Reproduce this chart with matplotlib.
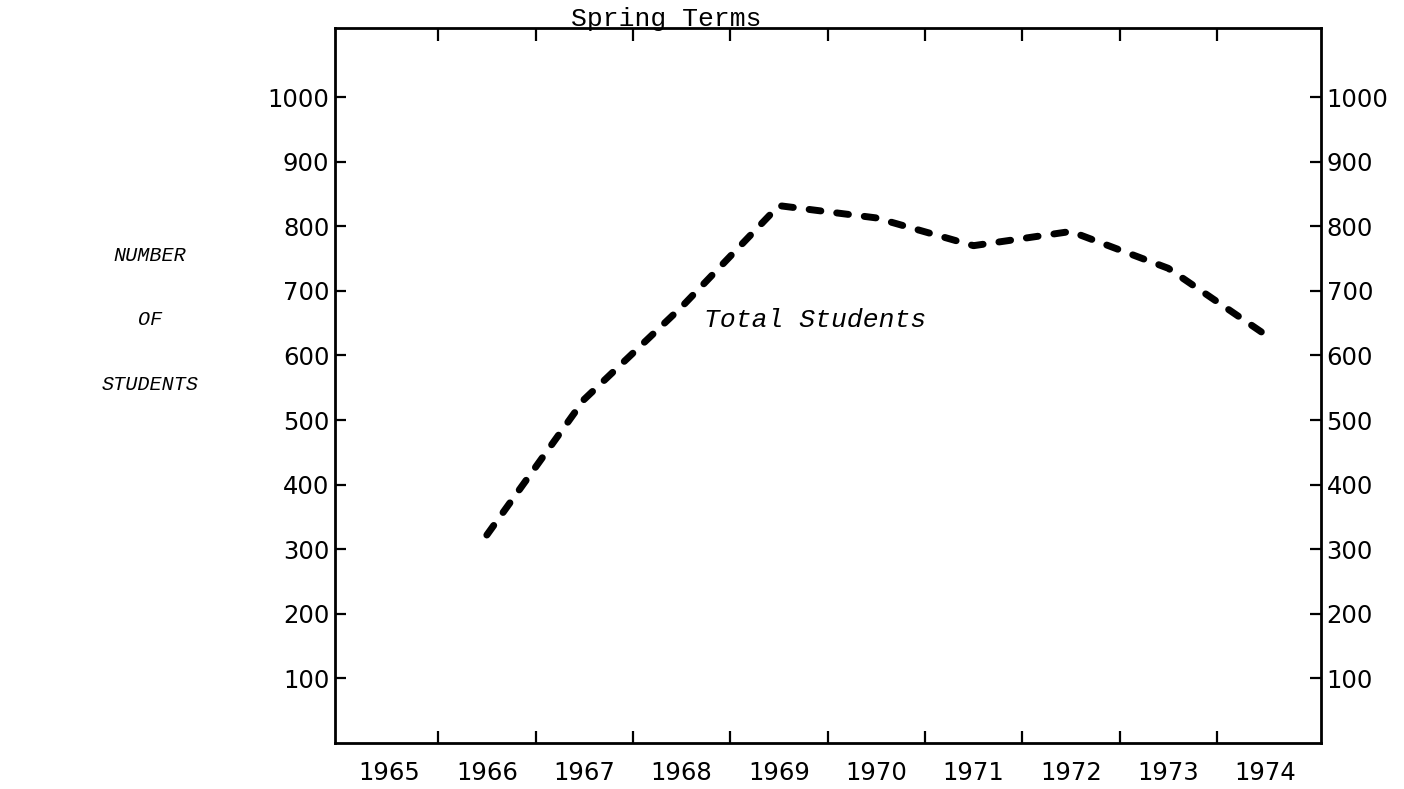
import numpy as np
import matplotlib
matplotlib.use('Agg')
import matplotlib.pyplot as plt
from matplotlib.ticker import FixedLocator

# enrollment, spring terms
years = [1966, 1967, 1968, 1969, 1970, 1971, 1972, 1973, 1974]
students = [322, 532, 675, 832, 813, 770, 792, 735, 632]

year_labels = [1965, 1966, 1967, 1968, 1969, 1970, 1971, 1972, 1973, 1974]
y_ticks = [100, 200, 300, 400, 500, 600, 700, 800, 900, 1000]

fig = plt.figure(figsize=(14.04, 7.89), dpi=100)
ax = fig.add_axes([0.2386, 0.0583, 0.7023, 0.9062])

ax.plot(years, students, color='black', lw=5.0, dashes=(1.7, 2.3),
        dash_capstyle='round', solid_capstyle='round')

ax.set_xlim(1964.44, 1974.57)
ax.set_ylim(0, 1107)

# year labels sit between the tick marks
ax.xaxis.set_major_locator(FixedLocator(year_labels))
ax.xaxis.set_minor_locator(FixedLocator([y + 0.5 for y in year_labels[:-1]]))
ax.set_xticklabels([str(y) for y in year_labels])
ax.tick_params(axis='x', which='major', length=0, pad=13, labelsize=17.5)
ax.tick_params(axis='x', which='minor', direction='in', length=9, width=1.6,
               top=True, bottom=True)

ax.set_yticks(y_ticks)
ax.set_yticklabels([str(v) for v in y_ticks])
ax.tick_params(axis='y', which='major', direction='in', length=8, width=1.6,
               left=True, right=True, labelleft=True, labelright=True,
               labelsize=17.5, pad=4)

for s in ax.spines.values():
    s.set_linewidth(2.0)

fig.text(666/1404, 1 - 26/789, 'Spring Terms', family='Liberation Mono',
         fontsize=19, ha='center', va='baseline')
ax.text(1968.23, 655, 'Total Students', family='Liberation Mono',
        style='italic', fontsize=19, ha='left', va='center')

for txt, v in [('NUMBER', 755), ('OF', 655), ('STUDENTS', 555)]:
    fig.text(150/1404, ax.transData.transform((0, v))[1] / 789, txt,
             family='Liberation Mono', style='italic', fontsize=14.5,
             ha='center', va='center')

fig.savefig('out.png', dpi=100)
